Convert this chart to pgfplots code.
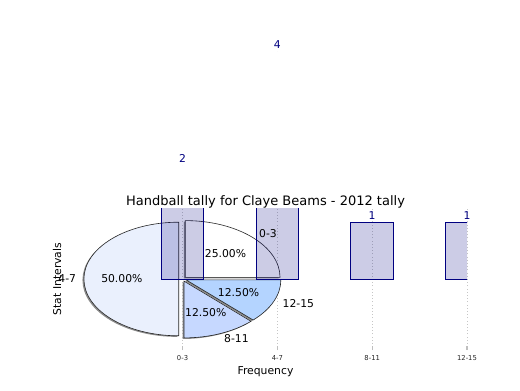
\documentclass[border=0pt]{standalone}
\usepackage{fontspec}
\setmainfont{DejaVu Sans}
\usepackage{pgfplots}
\pgfplotsset{compat=1.18}
\definecolor{navy}{RGB}{0,0,128}
\definecolor{sliceA}{RGB}{255,255,255}
\definecolor{sliceB}{RGB}{234,240,253}
\definecolor{sliceC}{RGB}{198,216,255}
\definecolor{sliceD}{RGB}{180,212,255}
\newcommand\lbl{\fontsize{8.1}{9.7}\selectfont}
\begin{document}
\begin{tikzpicture}
\useasboundingbox (0,0) rectangle (390pt,292.5pt);
\pgfplotsset{common/.style={
  at={(48pt,30pt)}, anchor=south west, scale only axis,
  width=302.25pt, height=106.5pt,
  xmin=-1.25, xmax=3, ymin=-1.25, ymax=1.25,
  /pgf/number format/assume math mode=true}}
\begin{axis}[common,
  axis line style={draw=none},
  xtick={0,1,2,3}, xticklabels={0-3,4-7,8-11,12-15},
  ytick=\empty,
  xmajorgrids, grid style={gray!45, dotted, line width=0.6pt},
  tick align=inside, xtick pos=bottom, major tick length=3pt,
  tick style={gray!50, line width=0.8pt},
  xticklabel style={font=\fontsize{5.1}{6}\selectfont, text=black!85, inner sep=1pt, yshift=-2.8pt},
  title={Handball tally for Claye Beams - 2012 tally},
  title style={font=\fontsize{9.75}{11}\selectfont, at={(axis description cs:0.5,1)}, anchor=south, inner sep=2pt, yshift=-8pt},
  xlabel={Frequency}, ylabel={Stat Intervals},
  every axis x label/.style={at={(axis description cs:0.5,0)}, anchor=center, yshift=-16.3pt, font=\lbl},
  every axis y label/.style={at={(axis description cs:0,0.5)}, xshift=-5.25pt, rotate=90, anchor=center, font=\lbl},
]
% pie shadows
\begin{scope}[shift={(-1.1pt,-0.8pt)}]
\fill[black!45] (axis cs:0.0283,0.0283) -- (axis cs:1.0283,0.0283) arc[start angle=0,end angle=90,x radius=71.118pt,y radius=42.6pt] -- cycle;
\fill[black!45] (axis cs:-0.04,0) -- (axis cs:-0.04,1) arc[start angle=90,end angle=270,x radius=71.118pt,y radius=42.6pt] -- cycle;
\fill[black!45] (axis cs:0.0153,-0.0370) -- (axis cs:0.0153,-1.0370) arc[start angle=270,end angle=315,x radius=71.118pt,y radius=42.6pt] -- cycle;
\fill[black!45] (axis cs:0.0370,-0.0153) -- (axis cs:0.7441,-0.7224) arc[start angle=315,end angle=360,x radius=71.118pt,y radius=42.6pt] -- cycle;
\end{scope}
% pie wedges: 0-3 (2), 4-7 (4), 8-11 (1), 12-15 (1)
\filldraw[fill=sliceA, draw=black!85, line width=0.45pt] (axis cs:0.0283,0.0283) -- (axis cs:1.0283,0.0283) arc[start angle=0,end angle=90,x radius=71.118pt,y radius=42.6pt] -- cycle;
\filldraw[fill=sliceB, draw=black!85, line width=0.45pt] (axis cs:-0.04,0) -- (axis cs:-0.04,1) arc[start angle=90,end angle=270,x radius=71.118pt,y radius=42.6pt] -- cycle;
\filldraw[fill=sliceC, draw=black!85, line width=0.45pt] (axis cs:0.0153,-0.0370) -- (axis cs:0.0153,-1.0370) arc[start angle=270,end angle=315,x radius=71.118pt,y radius=42.6pt] -- cycle;
\filldraw[fill=sliceD, draw=black!85, line width=0.45pt] (axis cs:0.0370,-0.0153) -- (axis cs:0.7441,-0.7224) arc[start angle=315,end angle=360,x radius=71.118pt,y radius=42.6pt] -- cycle;
% bars
\addplot[ybar, bar width=0.45, bar shift=0pt, fill=navy, fill opacity=0.2, draw=navy, line width=0.6pt]
  coordinates {(0,2) (1,4) (2,1) (3,1)};
\end{axis}
\begin{axis}[common, hide axis, clip=false]
\addplot[only marks, mark=*, mark size=0pt, mark options={draw=none, fill=none},
  nodes near coords,
  every node near coord/.append style={text=navy, font=\lbl, anchor=south, inner sep=2pt}]
  coordinates {(0,2) (1,4) (2,1) (3,1)};
\node[font=\lbl, anchor=west, inner sep=0pt] at (axis cs:0.806,0.806) {0-3};
\node[font=\lbl, anchor=east, inner sep=0pt] at (axis cs:-1.12,0) {4-7};
\node[font=\lbl, anchor=west, inner sep=0pt] at (axis cs:0.436,-1.053) {8-11};
\node[font=\lbl, anchor=west, inner sep=0pt] at (axis cs:1.053,-0.436) {12-15};
\node[font=\lbl] at (axis cs:0.453,0.453) {25.00\%};
\node[font=\lbl] at (axis cs:-0.64,0) {50.00\%};
\node[font=\lbl] at (axis cs:0.245,-0.591) {12.50\%};
\node[font=\lbl] at (axis cs:0.591,-0.245) {12.50\%};
\end{axis}
\end{tikzpicture}
\end{document}
